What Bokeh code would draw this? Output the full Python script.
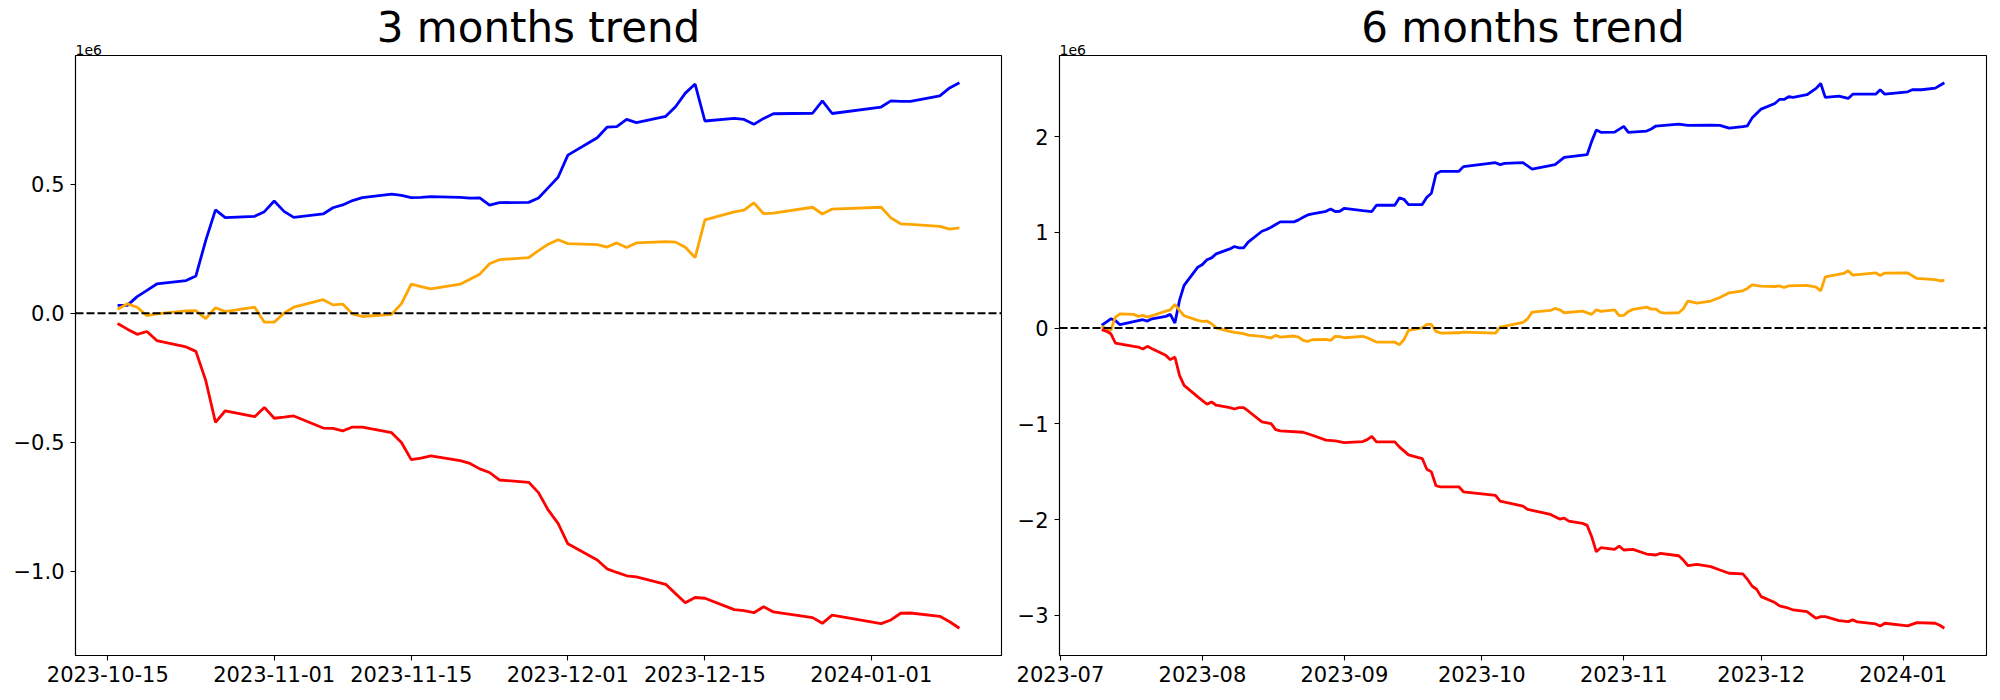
import pandas as pd
from bokeh.plotting import figure
from bokeh.layouts import row
from bokeh.models import Span, Title, FixedTicker, DatetimeTickFormatter, CustomJSTickFormatter
from bokeh.embed import file_html
from bokeh.resources import INLINE

# ---------------- data (values in units of 1e6) ----------------
dates_3m = ["2023-10-16", "2023-10-17", "2023-10-18", "2023-10-19", "2023-10-20",
            "2023-10-23", "2023-10-24", "2023-10-25", "2023-10-26", "2023-10-27",
            "2023-10-30", "2023-10-31", "2023-11-01", "2023-11-02", "2023-11-03",
            "2023-11-06", "2023-11-07", "2023-11-08", "2023-11-09", "2023-11-10",
            "2023-11-13", "2023-11-14", "2023-11-15", "2023-11-16", "2023-11-17",
            "2023-11-20", "2023-11-21", "2023-11-22", "2023-11-23", "2023-11-24",
            "2023-11-27", "2023-11-28", "2023-11-29", "2023-11-30", "2023-12-01",
            "2023-12-04", "2023-12-05", "2023-12-06", "2023-12-07", "2023-12-08",
            "2023-12-11", "2023-12-12", "2023-12-13", "2023-12-14", "2023-12-15",
            "2023-12-18", "2023-12-19", "2023-12-20", "2023-12-21", "2023-12-22",
            "2023-12-26", "2023-12-27", "2023-12-28",
            "2024-01-02", "2024-01-03", "2024-01-04", "2024-01-05",
            "2024-01-08", "2024-01-09", "2024-01-10"]
blue_3m = [0.030, 0.030, 0.064, 0.088, 0.113,
           0.126, 0.144, 0.281, 0.400, 0.370,
           0.375, 0.393, 0.434, 0.394, 0.371,
           0.384, 0.408, 0.419, 0.436, 0.447,
           0.461, 0.456, 0.447, 0.448, 0.451,
           0.448, 0.445, 0.446, 0.418, 0.428,
           0.429, 0.446, 0.486, 0.526, 0.612,
           0.679, 0.720, 0.722, 0.750, 0.738,
           0.762, 0.799, 0.852, 0.887, 0.744,
           0.754, 0.750, 0.731, 0.754, 0.772,
           0.774, 0.822, 0.773,
           0.798, 0.822, 0.820, 0.820,
           0.841, 0.872, 0.892]
orange_3m = [0.015, 0.036, 0.023, -0.010, -0.003,
             0.009, 0.010, -0.021, 0.021, 0.006,
             0.023, -0.035, -0.035, 0.000, 0.023,
             0.052, 0.032, 0.035, -0.003, -0.013,
             -0.005, 0.037, 0.112, 0.103, 0.094,
             0.112, 0.131, 0.151, 0.191, 0.207,
             0.215, 0.242, 0.267, 0.284, 0.269,
             0.265, 0.256, 0.272, 0.254, 0.272,
             0.277, 0.275, 0.255, 0.215, 0.361,
             0.392, 0.399, 0.427, 0.385, 0.387,
             0.410, 0.384, 0.403,
             0.410, 0.369, 0.346, 0.344,
             0.336, 0.325, 0.330]
red_3m = [-0.040, -0.062, -0.082, -0.071, -0.106,
          -0.131, -0.148, -0.260, -0.423, -0.378,
          -0.401, -0.365, -0.407, -0.403, -0.398,
          -0.445, -0.446, -0.456, -0.441, -0.441,
          -0.463, -0.501, -0.567, -0.561, -0.553,
          -0.571, -0.582, -0.603, -0.617, -0.646,
          -0.655, -0.695, -0.763, -0.814, -0.893,
          -0.956, -0.990, -1.004, -1.017, -1.021,
          -1.050, -1.086, -1.121, -1.101, -1.104,
          -1.148, -1.152, -1.160, -1.137, -1.157,
          -1.179, -1.201, -1.169,
          -1.202, -1.188, -1.162, -1.161,
          -1.174, -1.195, -1.220]

blue_6m_dates = ["2023-07-10", "2023-07-12", "2023-07-13", "2023-07-14", "2023-07-19", "2023-07-20",
                 "2023-07-21", "2023-07-24", "2023-07-25", "2023-07-26", "2023-07-27", "2023-07-28",
                 "2023-07-31", "2023-08-01", "2023-08-02", "2023-08-03", "2023-08-04", "2023-08-07",
                 "2023-08-08", "2023-08-09", "2023-08-10", "2023-08-11", "2023-08-14", "2023-08-15",
                 "2023-08-16", "2023-08-17", "2023-08-18", "2023-08-21", "2023-08-22", "2023-08-23",
                 "2023-08-24", "2023-08-25", "2023-08-28", "2023-08-29", "2023-08-30", "2023-08-31",
                 "2023-09-01", "2023-09-05", "2023-09-07", "2023-09-08", "2023-09-12", "2023-09-13",
                 "2023-09-14", "2023-09-15", "2023-09-18", "2023-09-19", "2023-09-20", "2023-09-21",
                 "2023-09-22", "2023-09-26", "2023-09-27", "2023-10-04", "2023-10-05", "2023-10-06",
                 "2023-10-10", "2023-10-12", "2023-10-17", "2023-10-19", "2023-10-24", "2023-10-25",
                 "2023-10-26", "2023-10-27", "2023-10-30", "2023-11-01", "2023-11-02", "2023-11-06",
                 "2023-11-07", "2023-11-08", "2023-11-13", "2023-11-15", "2023-11-20", "2023-11-22",
                 "2023-11-24", "2023-11-27", "2023-11-28", "2023-11-29", "2023-12-01", "2023-12-04",
                 "2023-12-05", "2023-12-06", "2023-12-07", "2023-12-08", "2023-12-11", "2023-12-13",
                 "2023-12-14", "2023-12-15", "2023-12-18", "2023-12-20", "2023-12-21", "2023-12-26",
                 "2023-12-27", "2023-12-28", "2024-01-02", "2024-01-03", "2024-01-05", "2024-01-08",
                 "2024-01-09", "2024-01-10"]
blue_6m = [0.028, 0.097, 0.080, 0.035, 0.087, 0.073,
           0.097, 0.122, 0.143, 0.052, 0.289, 0.445,
           0.636, 0.664, 0.713, 0.733, 0.775, 0.827,
           0.852, 0.838, 0.838, 0.897, 1.011, 1.029,
           1.053, 1.081, 1.109, 1.109, 1.130, 1.157,
           1.182, 1.192, 1.220, 1.244, 1.217, 1.220,
           1.251, 1.227, 1.217, 1.283, 1.283, 1.359,
           1.345, 1.290, 1.290, 1.366, 1.408, 1.609,
           1.637, 1.637, 1.686, 1.727, 1.707, 1.721,
           1.727, 1.661, 1.707, 1.783, 1.811, 1.950,
           2.068, 2.044, 2.047, 2.106, 2.044, 2.058,
           2.079, 2.110, 2.131, 2.117, 2.120, 2.117,
           2.089, 2.103, 2.113, 2.193, 2.287, 2.346,
           2.388, 2.388, 2.416, 2.409, 2.437, 2.503,
           2.555, 2.409, 2.422, 2.398, 2.443, 2.443,
           2.489, 2.443, 2.468, 2.489, 2.489, 2.506,
           2.534, 2.562]

orange_6m_dates = ["2023-07-10", "2023-07-12", "2023-07-13", "2023-07-14", "2023-07-17", "2023-07-18",
                   "2023-07-19", "2023-07-20", "2023-07-21", "2023-07-24", "2023-07-25", "2023-07-26",
                   "2023-07-27", "2023-07-28", "2023-07-31", "2023-08-01", "2023-08-02", "2023-08-03",
                   "2023-08-04", "2023-08-07", "2023-08-08", "2023-08-10", "2023-08-11", "2023-08-14",
                   "2023-08-15", "2023-08-16", "2023-08-17", "2023-08-18", "2023-08-21", "2023-08-22",
                   "2023-08-23", "2023-08-24", "2023-08-25", "2023-08-28", "2023-08-29", "2023-08-30",
                   "2023-08-31", "2023-09-01", "2023-09-05", "2023-09-06", "2023-09-08", "2023-09-12",
                   "2023-09-13", "2023-09-14", "2023-09-15", "2023-09-18", "2023-09-19", "2023-09-20",
                   "2023-09-21", "2023-09-22", "2023-09-26", "2023-09-27", "2023-10-04", "2023-10-05",
                   "2023-10-10", "2023-10-11", "2023-10-12", "2023-10-16", "2023-10-17", "2023-10-18",
                   "2023-10-19", "2023-10-23", "2023-10-25", "2023-10-26", "2023-10-27", "2023-10-30",
                   "2023-10-31", "2023-11-01", "2023-11-02", "2023-11-03", "2023-11-06", "2023-11-07",
                   "2023-11-08", "2023-11-09", "2023-11-10", "2023-11-13", "2023-11-14", "2023-11-15",
                   "2023-11-17", "2023-11-20", "2023-11-22", "2023-11-24", "2023-11-27", "2023-11-28",
                   "2023-11-29", "2023-12-01", "2023-12-04", "2023-12-05", "2023-12-06", "2023-12-07",
                   "2023-12-11", "2023-12-13", "2023-12-14", "2023-12-15", "2023-12-19", "2023-12-20",
                   "2023-12-21", "2023-12-26", "2023-12-27", "2023-12-28", "2024-01-02", "2024-01-04",
                   "2024-01-08", "2024-01-09", "2024-01-10"]
orange_6m = [0.017, -0.024, 0.115, 0.149, 0.143, 0.122,
             0.132, 0.115, 0.129, 0.177, 0.191, 0.247,
             0.184, 0.129, 0.080, 0.070, 0.073, 0.045,
             0.003, -0.035, -0.045, -0.059, -0.073, -0.087,
             -0.094, -0.104, -0.076, -0.094, -0.083, -0.094,
             -0.129, -0.139, -0.122, -0.118, -0.129, -0.087,
             -0.090, -0.101, -0.087, -0.101, -0.146, -0.146,
             -0.174, -0.122, -0.024, 0.003, 0.038, 0.038,
             -0.035, -0.052, -0.049, -0.042, -0.052, 0.010,
             0.059, 0.097, 0.167, 0.184, 0.205, 0.191,
             0.160, 0.177, 0.143, 0.191, 0.174, 0.191,
             0.129, 0.132, 0.174, 0.195, 0.219, 0.198,
             0.198, 0.163, 0.156, 0.160, 0.202, 0.282,
             0.261, 0.282, 0.320, 0.368, 0.389, 0.414,
             0.452, 0.438, 0.434, 0.441, 0.424, 0.441,
             0.445, 0.428, 0.389, 0.535, 0.570, 0.598,
             0.553, 0.577, 0.549, 0.574, 0.577, 0.518,
             0.507, 0.494, 0.497]

red_6m_dates = ["2023-07-10", "2023-07-11", "2023-07-12", "2023-07-13", "2023-07-17", "2023-07-18",
                "2023-07-19", "2023-07-20", "2023-07-21", "2023-07-24", "2023-07-25", "2023-07-26",
                "2023-07-27", "2023-07-28", "2023-07-31", "2023-08-02", "2023-08-03", "2023-08-04",
                "2023-08-07", "2023-08-08", "2023-08-09", "2023-08-10", "2023-08-11", "2023-08-14",
                "2023-08-16", "2023-08-17", "2023-08-18", "2023-08-23", "2023-08-25", "2023-08-28",
                "2023-08-30", "2023-09-01", "2023-09-05", "2023-09-06", "2023-09-07", "2023-09-08",
                "2023-09-12", "2023-09-13", "2023-09-15", "2023-09-18", "2023-09-19", "2023-09-20",
                "2023-09-21", "2023-09-22", "2023-09-26", "2023-09-27", "2023-10-04", "2023-10-05",
                "2023-10-10", "2023-10-11", "2023-10-16", "2023-10-18", "2023-10-19", "2023-10-20",
                "2023-10-23", "2023-10-24", "2023-10-25", "2023-10-26", "2023-10-27", "2023-10-30",
                "2023-10-31", "2023-11-01", "2023-11-03", "2023-11-06", "2023-11-08", "2023-11-09",
                "2023-11-13", "2023-11-14", "2023-11-15", "2023-11-17", "2023-11-20", "2023-11-22",
                "2023-11-24", "2023-11-27", "2023-11-28", "2023-11-29", "2023-11-30", "2023-12-01",
                "2023-12-04", "2023-12-05", "2023-12-07", "2023-12-08", "2023-12-11", "2023-12-13",
                "2023-12-14", "2023-12-15", "2023-12-18", "2023-12-20", "2023-12-21", "2023-12-22",
                "2023-12-26", "2023-12-27", "2023-12-28", "2024-01-02", "2024-01-04", "2024-01-08",
                "2024-01-09", "2024-01-10"]
red_6m = [-0.017, -0.031, -0.059, -0.156, -0.191, -0.198,
          -0.219, -0.191, -0.216, -0.285, -0.330, -0.302,
          -0.494, -0.598, -0.719, -0.796, -0.772, -0.806,
          -0.831, -0.845, -0.831, -0.831, -0.866, -0.980,
          -0.998, -1.060, -1.074, -1.088, -1.119, -1.171,
          -1.178, -1.196, -1.185, -1.165, -1.130, -1.189,
          -1.189, -1.241, -1.324, -1.363, -1.474, -1.502,
          -1.647, -1.658, -1.658, -1.710, -1.748, -1.807,
          -1.860, -1.894, -1.946, -1.995, -1.985, -2.016,
          -2.040, -2.061, -2.179, -2.336, -2.294, -2.311,
          -2.277, -2.318, -2.311, -2.360, -2.370, -2.353,
          -2.378, -2.423, -2.482, -2.468, -2.492, -2.527,
          -2.561, -2.568, -2.624, -2.694, -2.728, -2.805,
          -2.867, -2.902, -2.926, -2.944, -2.961, -3.031,
          -3.014, -3.014, -3.055, -3.066, -3.048, -3.069,
          -3.090, -3.111, -3.083, -3.111, -3.076, -3.083,
          -3.104, -3.135]

xticks_3m = ["2023-10-15", "2023-11-01", "2023-11-15", "2023-12-01", "2023-12-15", "2024-01-01"]
xticks_6m = ["2023-07-01", "2023-08-01", "2023-09-01", "2023-10-01", "2023-11-01", "2023-12-01", "2024-01-01"]
yticks_3m = [-1.0, -0.5, 0.0, 0.5]
yticks_6m = [-3, -2, -1, 0, 1, 2]
titles = ["3 months trend", "6 months trend"]
offset_text = "1e6"

FONT = "DejaVu Sans"


def ms(dates):
    return [int(pd.Timestamp(d).value // 10**6) for d in dates]


def make_fig(width, left, right, title, xticks, xfmt, yticks, ydec, series):
    p = figure(width=width, height=698, x_axis_type="datetime",
               output_backend="svg", toolbar_location=None,
               min_border_left=left, min_border_right=right,
               min_border_top=55, min_border_bottom=43)
    for xs, ys, col in series:
        p.line(pd.to_datetime(xs), ys, line_color=col, line_width=2.8)
    p.add_layout(Span(location=0, dimension="width", line_color="black",
                      line_dash="8 3", line_width=2.0))
    p.xgrid.visible = False
    p.ygrid.visible = False
    p.outline_line_color = "black"
    p.outline_line_width = 1.1
    p.outline_line_alpha = 1.0
    p.background_fill_color = "white"
    p.border_fill_color = "white"

    p.xaxis.ticker = FixedTicker(ticks=ms(xticks))
    p.xaxis.formatter = DatetimeTickFormatter(
        microseconds=xfmt, milliseconds=xfmt, seconds=xfmt, minsec=xfmt,
        minutes=xfmt, hourmin=xfmt, hours=xfmt, days=xfmt, months=xfmt, years=xfmt)
    p.yaxis.ticker = FixedTicker(ticks=yticks)
    p.yaxis.formatter = CustomJSTickFormatter(code="""
        const s = Math.abs(tick).toFixed(%d);
        return (tick < -1e-9 ? '\\u2212' : '') + s;
    """ % ydec)
    for ax in (p.xaxis, p.yaxis):
        ax.axis_line_color = "black"
        ax.axis_line_width = 1.1
        ax.major_tick_line_color = "black"
        ax.major_tick_line_width = 1.1
        ax.major_tick_out = 5
        ax.major_tick_in = 0
        ax.minor_tick_line_color = None
        ax.major_label_text_font = FONT
        ax.major_label_text_font_size = "21px"
        ax.major_label_text_color = "black"
    p.xaxis.major_label_standoff = 5
    p.yaxis.major_label_standoff = 6

    # offset text next to the frame, then the big title stacked above it
    p.add_layout(Title(text=offset_text, align="left", text_font=FONT, text_font_size="14px",
                       text_font_style="normal", text_color="black", standoff=2), "above")
    p.add_layout(Title(text=title, align="center", text_font=FONT, text_font_size="42px",
                       text_font_style="normal", text_color="black", standoff=-20), "above")
    return p


p1 = make_fig(1009, 75, 8, titles[0], xticks_3m, "%Y-%m-%d", yticks_3m, 1,
              [(dates_3m, blue_3m, "blue"), (dates_3m, orange_3m, "orange"), (dates_3m, red_3m, "red")])
p2 = make_fig(991, 50, 14, titles[1], xticks_6m, "%Y-%m", yticks_6m, 0,
              [(blue_6m_dates, blue_6m, "blue"), (orange_6m_dates, orange_6m, "orange"),
               (red_6m_dates, red_6m, "red")])

layout = row(p1, p2)
open("out.html", "w").write(file_html(layout, INLINE))
